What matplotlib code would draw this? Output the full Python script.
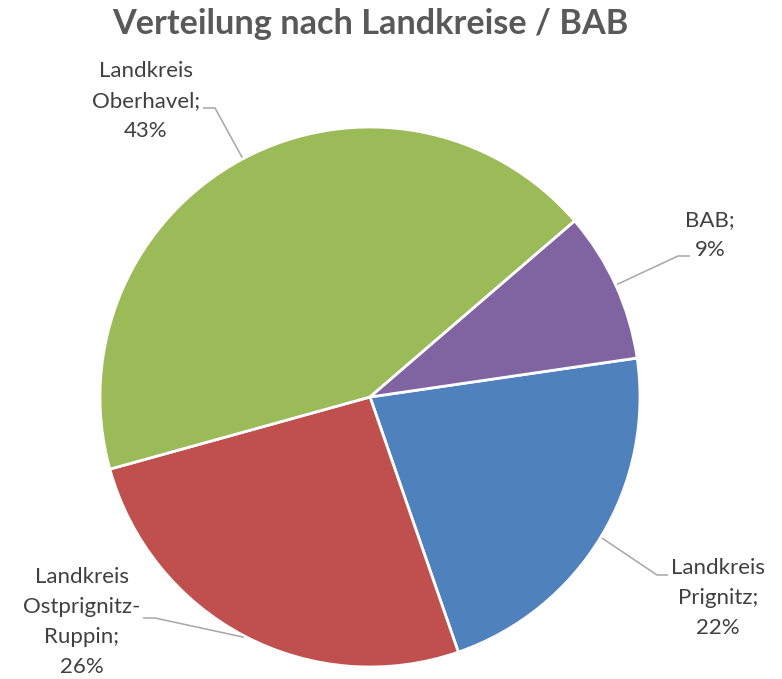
import numpy as np
import matplotlib
matplotlib.use("Agg")
import matplotlib.pyplot as plt

# data (Excel order: blue, red, green, purple)
kreise = ["Landkreis\nPrignitz", "Landkreis\nOstprignitz-\nRuppin", "Landkreis\nOberhavel", "BAB"]
anteile = [22, 26, 43, 9]
farben = ["#4F81BD", "#C0504D", "#9BBB59", "#8064A2"]

W, H = 782, 679
fig = plt.figure(figsize=(W / 100, H / 100), dpi=100)
ax = fig.add_axes([0, 0, 1, 1])

cx, cy, r = 370, H - 397, 270
start = 8.3
wedges, _ = ax.pie(anteile, colors=farben, startangle=start, counterclock=False,
                   center=(cx, cy), radius=r,
                   wedgeprops=dict(edgecolor="white", linewidth=2))
ax.set_xlim(0, W)
ax.set_ylim(0, H)
ax.set_aspect("equal")
ax.axis("off")

# label text centre, elbow point, end of horizontal stub (pixel coords from top)
lab_pos = [(718, 598), (82, 622), (146, 101), (710, 235)]
knick = [(657, 575), (155, 618), (215, 108), (678, 256)]
stub = [(668, 575), (143, 618), (203, 108), (690, 256)]

for w, name, val, (tx, ty), (kx, ky), (sx, sy) in zip(wedges, kreise, anteile, lab_pos, knick, stub):
    mid = np.deg2rad((w.theta1 + w.theta2) / 2)
    px = cx + r * 1.005 * np.cos(mid)
    py = cy + r * 1.005 * np.sin(mid)
    ax.plot([px, kx, sx], [py, H - ky, H - sy], color="#A6A6A6", lw=1.1,
            solid_capstyle="butt", zorder=1)
    ax.text(tx, H - ty, f"{name};\n{val}%", ha="center", va="center",
            fontsize=16, family="Lato", color="#404040", linespacing=1.62)

ax.text(370, H - 24, "Verteilung nach Landkreise / BAB", ha="center", va="center",
        fontsize=24.7, family="Lato", fontweight="bold", color="#595959")

fig.savefig("out.png", dpi=100, facecolor="white")
